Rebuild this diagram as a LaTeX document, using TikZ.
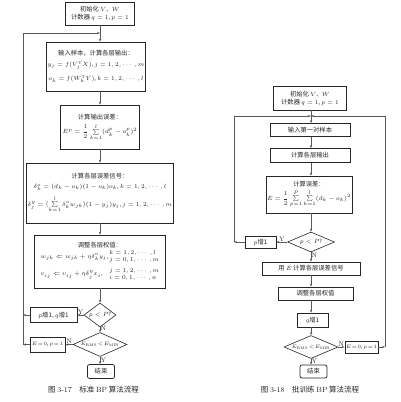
\documentclass[tikz,border=0pt]{standalone}
\usepackage{amsmath}
\usepackage{fontspec}
\newfontfamily\cjk{Noto Sans CJK SC}
\usetikzlibrary{shapes.geometric,arrows.meta}
\newcommand\fmsmall{\fontsize{5.6}{7}\selectfont}
\newcommand\fmtight{\fontsize{5.4}{7}\selectfont\thickmuskip=1.5mu\medmuskip=1.5mu}
\begin{document}
\begin{tikzpicture}[x=1pt,y=-1pt,
  every node/.style={font=\cjk\fontsize{6.3}{8}\selectfont, text=black!85},
  box/.style={draw=black!85, line width=0.7pt, inner sep=1pt, align=center},
  rbox/.style={box, rounded corners=2pt},
  dia/.style={draw=black!85, line width=0.6pt, diamond, inner sep=0pt},
  conn/.style={draw=black!65, line width=0.45pt, -{Stealth[length=3pt,width=2.2pt]}},
  lab/.style={font=\rmfamily\fontsize{6.5}{7}\selectfont, inner sep=0.5pt},
  captext/.style={font=\cjk\fontsize{7.5}{9}\selectfont}]
\useasboundingbox (0,0) rectangle (400,402);
\fill[white] (0,0) rectangle (400,402);

% ---------------- left chart ----------------
\node[box, minimum width=69pt, minimum height=23pt] (i1) at (100,13.5) {初始化 {\fmsmall$V$、$W$}\\计数器 {\fmsmall$q=1$, $p=1$}};
\node[box, minimum width=94pt, minimum height=49pt] (in1) at (96,66.5) {输入样本，计算各层输出：\\[3pt] {\fmsmall$y_j=f(V_j^{\mathrm{T}}X)$, $j=1,2,\cdots,m$}\\[5pt] {\fmsmall$o_k=f(W_k^{\mathrm{T}}Y)$, $k=1,2,\cdots,l$}};
\node[box, minimum width=79pt, minimum height=44pt] (err1) at (100,127) {计算输出误差：\\[3pt] {\fmsmall$E^p=\dfrac{1}{2}\sum\limits_{k=1}^{l}(d_k^p-o_k^p)^2$}};
\node[box, minimum width=126pt, minimum height=60pt] (sig1) at (100,193) {计算各层误差信号：\\[2pt] {\fmsmall$\delta_k^o=(d_k-o_k)(1-o_k)o_k$, $k=1,2,\cdots,l$}\\[5pt] {\fmsmall$\delta_j^y=\bigl(\sum\limits_{k=1}^{l}\delta_k^o w_{jk}\bigr)(1-y_j)y_j$, $j=1,2,\cdots,m$}};
\node[box, minimum width=131pt, minimum height=53pt] (adj1) at (100,261.5) {调整各层权值：\\[1pt]
  {\fmsmall\begin{tabular}{@{}l@{\ }l@{}}
  $w_{jk}\Leftarrow w_{jk}+\eta\delta_k^o y_j$, & \begin{tabular}[c]{@{}l@{}}$k=1,2,\cdots,l$\\ $j=0,1,\cdots,m$\end{tabular}\\[7pt]
  $v_{ij}\Leftarrow v_{ij}+\eta\delta_j^y x_i$, & \begin{tabular}[c]{@{}l@{}}$j=1,2,\cdots,m$\\ $i=0,1,\cdots,n$\end{tabular}
  \end{tabular}}};
\node[dia, minimum width=32pt, minimum height=24pt] (d1) at (100,315) {\makebox[0pt]{\fmsmall$p<P$?}};
\node[box, minimum width=47pt, minimum height=15pt] (pq1) at (53.5,315) {{\fmsmall$p$}增1, {\fmsmall$q$}增1};
\node[dia, minimum width=54pt, minimum height=24pt] (d2) at (100,344.5) {\makebox[0pt]{\fmtight$E_{\mathrm{RMS}}<E_{\mathrm{MIN}}$}};
\node[box, minimum width=35pt, minimum height=15pt] (e01) at (47.5,344.5) {\fmtight$E=0$, $p=1$};
\node[rbox, minimum width=27pt, minimum height=14pt] (end1) at (101,371.5) {结束};
\node[captext] (c1) at (93.5,390) {图 {\rmfamily 3-17}\quad 标准 {\rmfamily BP} 算法流程};

\coordinate (L1) at (23,33);
\draw[conn] (i1.south) -- (i1.south |- in1.north);
\draw[conn] (in1.south -| err1.north) -- (err1.north);
\draw[conn] (err1.south) -- (sig1.north);
\draw[conn] (sig1.south) -- (adj1.north);
\draw[conn] (adj1.south) -- (d1.north);
\draw[conn] (d1.south) -- node[lab, right, pos=0.1]{N} (d2.north);
\draw[conn] (d1.west) -- node[lab, above]{Y} (pq1.east);
\draw[conn] (d2.west) -- node[lab, above]{N} (e01.east);
\draw[conn] (d2.south) -- node[lab, right]{Y} (d2.south |- end1.north);
\draw[conn] (pq1.west) -- (pq1.west -| L1);
\draw[conn] (e01.west) -- (e01.west -| L1);
\draw[conn] (e01.west -| L1) -- (L1) -- (L1 -| i1.south);

% ---------------- right chart ----------------
\coordinate (M) at (311,0);
\node[box, minimum width=73pt, minimum height=24pt] (i2) at (310,98) {初始化 {\fmsmall$V$、$W$}\\计数器 {\fmsmall$q=1$, $p=1$}};
\node[box, minimum width=80pt, minimum height=13pt] (in2) at (310,130) {输入第一对样本};
\node[box, minimum width=80pt, minimum height=14pt] (out2) at (310,155.5) {计算各层输出};
\node[box, minimum width=82pt, minimum height=37pt] (err2) at (309,194.5) {计算误差：\\[2pt] {\fmsmall$E=\dfrac{1}{2}\sum\limits_{p=1}^{P}\sum\limits_{k=1}^{l}(d_k-o_k)^2$}};
\node[dia, minimum width=47pt, minimum height=20pt] (d3) at (311,242) {\makebox[0pt]{\fmsmall$p<P$?}};
\node[box, minimum width=31pt, minimum height=12pt] (p2) at (260.5,242) {{\fmsmall$p$}增1};
\node[box, minimum width=98pt, minimum height=13pt] (sig2) at (311,268.5) {用 {\fmsmall$E$} 计算各层误差信号};
\node[box, minimum width=75pt, minimum height=13pt] (adj2) at (315.5,293.5) {调整各层权值};
\node[box, minimum width=31pt, minimum height=14pt] (q2) at (312.5,320) {{\fmsmall$q$}增1};
\node[dia, minimum width=54pt, minimum height=23pt] (d4) at (311,347) {\makebox[0pt]{\fmtight$E_{\mathrm{RMS}}<E_{\mathrm{MIN}}$}};
\node[box, minimum width=33pt, minimum height=12pt] (e02) at (361.5,347) {\fmtight$E=0$, $p=1$};
\node[rbox, minimum width=27pt, minimum height=13pt] (end2) at (313.5,371.5) {结束};
\node[captext] (c2) at (310,390) {图 {\rmfamily 3-18}\quad 批训练 {\rmfamily BP} 算法流程};

\coordinate (RL) at (234,116);
\coordinate (RR) at (385,116);
\draw[conn] (i2.south -| M) -- (in2.north -| M);
\draw[conn] (in2.south -| M) -- (out2.north -| M);
\draw[conn] (out2.south -| M) -- (err2.north -| M);
\draw[conn] (err2.south -| M) -- (d3.north);
\draw[conn] (d3.west) -- node[lab, above]{Y} (p2.east);
\draw[conn] (d3.south) -- node[lab, right, pos=0.3]{N} (sig2.north -| M);
\draw[conn] (sig2.south -| M) -- (adj2.north -| M);
\draw[conn] (adj2.south -| M) -- (q2.north -| M);
\draw[conn] (q2.south -| M) -- (d4.north);
\draw[conn] (d4.east) -- node[lab, above]{N} (e02.west);
\draw[conn] (d4.south) -- node[lab, right]{Y} (d4.south |- end2.north);
\draw[conn] (p2.west) -- (p2.west -| RL);
\draw[conn] (p2.west -| RL) -- (RL) -- (RL -| M);
\draw[conn] (e02.east) -- (e02.east -| RR);
\draw[conn] (e02.east -| RR) -- (RR) -- (RR -| M);
\end{tikzpicture}
\end{document}
